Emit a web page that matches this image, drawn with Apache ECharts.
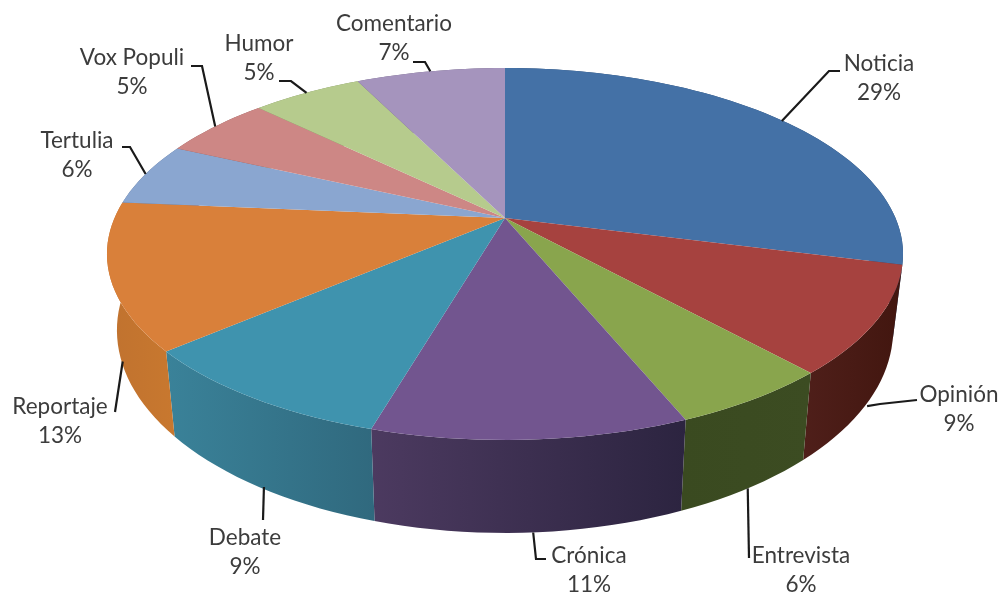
<!DOCTYPE html>
<html><head><meta charset="utf-8">
<style>html,body{margin:0;padding:0;background:#fff}#c{width:1002px;height:593px}</style>
<script src="https://cdn.jsdelivr.net/npm/echarts@6/dist/echarts.min.js"></script>
</head><body><div id="c"></div>
<script>
const categories = ['Noticia','Opinión','Entrevista','Crónica','Debate','Reportaje','Tertulia','Vox Populi','Humor','Comentario'];
const shares = [29.0,9.3,5.5,10.7,9.2,12.7,5.5,5.4,5.4,7.3];

// styles
const topColors = ['#4471a6','#a6423f','#89a54d','#72558f','#3f93ae','#d9803a','#8aa6d0','#cd8785','#b6cb8d','#a594bd'];
const sideColors = [
  ['#2c4a70','#2c4a70'],['#4f1f1a','#42160f'],['#3a4a20','#3c4c22'],['#4c3a60','#2c2440'],
  ['#3a8299','#30697e'],['#c0722f','#c8782f'],['#5c7296','#5c7296'],['#8c5a58','#8c5a58'],['#7c8c5e','#7c8c5e'],['#6e6280','#6e6280']];
// label centre, leader route (from label end to the elbow) and small nudge of the leader's end, in pixels
const labelLayout = [
  {x:879,y:78,route:[[840,71],[829,71]],nudge:[1,1]},
  {x:959,y:409,route:[[917,400],[880,404]],nudge:[0,3]},
  {x:801,y:570,route:[[749,558]],nudge:[0,0]},
  {x:589,y:570,route:[[546,559],[536,559]],nudge:[3,0]},
  {x:245,y:552,route:[[263,520]],nudge:[5,0]},
  {x:60,y:421,route:[[115,412]],nudge:[3,7]},
  {x:77,y:155,route:[[122,147],[130,147]],nudge:[0,0]},
  {x:132,y:72,route:[[191,66],[202,66]],nudge:[0,0]},
  {x:259,y:58,route:[[279,81],[291,81]],nudge:[0,0]},
  {x:394,y:38,route:[[413,62],[425,62]],nudge:[0,0]}
];
// projection of the tilted disc
const proj = {cx:505, cy:218, a:390.5, b:179, c:0.1935, depthX:0.975, depthYScale:1.09, depthY:73};

const total = shares.reduce((s,v)=>s+v,0);
const starts = []; let acc = 0;
shares.forEach(v=>{starts.push(acc); acc+=v;});
const topPt = f => {
  const t=f/total*2*Math.PI, X=Math.sin(t), Y=Math.cos(t), w=1/(1+proj.c*Y);
  return [proj.cx+proj.a*X*w, proj.cy-proj.b*Y*w];
};
const botPt = f => {
  const p=topPt(f);
  return [proj.cx+(p[0]-proj.cx)*proj.depthX, proj.cy+proj.depthY+(p[1]-proj.cy)*proj.depthYScale];
};
const arc = (fn,from,to) => {
  const n=Math.max(8,Math.round((to-from)*2)), out=[];
  for(let i=0;i<=n;i++) out.push(fn(from+(to-from)*i/n));
  return out;
};
const data = shares.map((v,i)=>({name:categories[i],value:v}));

function renderSide(params,api){
  const i=params.dataIndex, s=starts[i], e=s+api.value(0);
  const pts=arc(topPt,s,e).concat(arc(botPt,s,e).reverse());
  return {type:'polygon',shape:{points:pts},style:{
    fill:new echarts.graphic.LinearGradient(0,0,1,0,[{offset:0,color:sideColors[i][0]},{offset:1,color:sideColors[i][1]}])}};
}
function renderTop(params,api){
  const i=params.dataIndex, s=starts[i], e=s+api.value(0);
  const pts=[[proj.cx,proj.cy]].concat(arc(topPt,s,e));
  return {type:'polygon',shape:{points:pts},style:{fill:topColors[i]}};
}
function renderLabel(params,api){
  const i=params.dataIndex, v=api.value(0), mid=starts[i]+v/2, L=labelLayout[i];
  const t=mid/total*2*Math.PI;
  const base=Math.cos(t)<0?botPt(mid):topPt(mid);
  const anchor=[base[0]+L.nudge[0],base[1]+L.nudge[1]];
  return {type:'group',children:[
    {type:'polyline',shape:{points:L.route.concat([anchor])},style:{stroke:'#1a1a1a',lineWidth:2.2,fill:null}},
    {type:'text',x:L.x,y:L.y,style:{text:categories[i]+'\n'+Math.round(v)+'%',align:'center',verticalAlign:'middle',
      fontFamily:'Lato',fontSize:22.5,lineHeight:29.5,fill:'#3c3c3c'}}
  ]};
}
const chart=echarts.init(document.getElementById('c'),null,{renderer:'canvas'});
chart.setOption({
  animation:false,
  backgroundColor:'#fff',
  series:[
    {type:'custom',coordinateSystem:'none',z:1,silent:true,renderItem:renderSide,data},
    {type:'custom',coordinateSystem:'none',z:2,silent:true,renderItem:renderTop,data},
    {type:'custom',coordinateSystem:'none',z:3,silent:true,renderItem:renderLabel,data}
  ]
});
</script></body></html>
